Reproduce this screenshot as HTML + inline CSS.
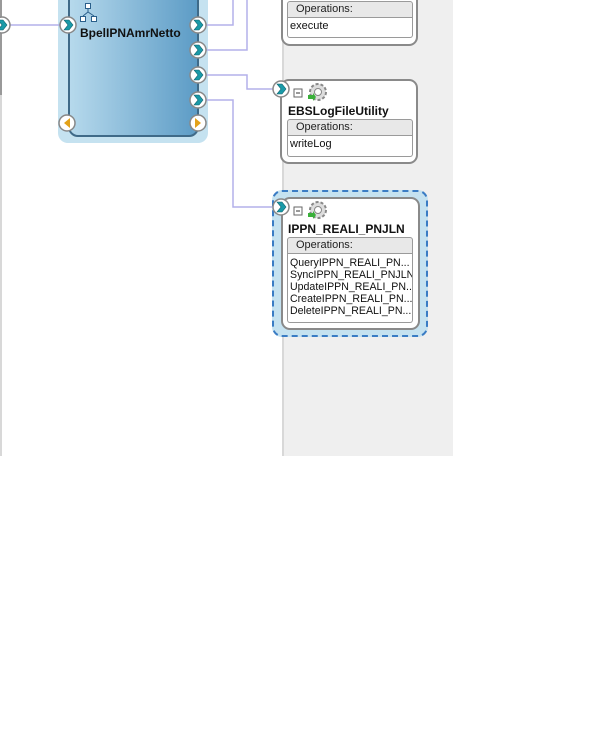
<!DOCTYPE html>
<html><head><style>
body{margin:0;width:602px;height:739px;background:#fff;position:relative;overflow:hidden;font-family:"Liberation Sans",sans-serif;}
.a{position:absolute;}
.box{position:absolute;background:#fff;border:2px solid #8a8a8a;border-radius:9px;box-sizing:border-box;}
.hdr{position:absolute;background:#e8e8e8;border:1px solid #9a9a9a;border-radius:3px 3px 0 0;font-size:11px;color:#222;box-sizing:border-box;padding-left:8px;line-height:15px;}
.rows{position:absolute;border:1px solid #9a9a9a;border-top:none;border-radius:0 0 3px 3px;font-size:11px;color:#111;box-sizing:border-box;padding-left:2px;line-height:12px;background:#fff;}
.title{position:absolute;font-weight:bold;font-size:12px;color:#111;}
</style></head><body>
<div class="a" style="left:282px;top:0;width:171px;height:456px;background:#efefef;border-left:2px solid #d8d8d8;box-sizing:border-box;"></div>
<div class="a" style="left:0;top:0;width:2px;height:456px;background:#d8d8d8;"></div>
<div class="a" style="left:0;top:0;width:2px;height:95px;background:#999;"></div>

<div class="a" style="left:58px;top:-10px;width:150px;height:153px;background:#c5e2f0;border-radius:10px;"></div>
<div class="a" style="left:68px;top:-10px;width:131px;height:147px;background:linear-gradient(to right,#b6d9ec,#5d9cc6);border:2px solid #3f6a88;border-radius:10px;box-sizing:border-box;"></div>
<div class="title" style="left:80px;top:26px;font-size:12px;">BpelIPNAmrNetto</div>

<svg class="a" style="left:0;top:0" width="602" height="739">
<g fill="none" stroke="#b4b0ea" stroke-width="1.5">
<path d="M8 25H60"/>
<path d="M206 25H233V0"/>
<path d="M206 50H247V0"/>
<path d="M206 75H247V89H275"/>
<path d="M206 100H233V207H275"/>
</g>
<g fill="#fff" stroke="#2a5f8a" stroke-width="1">
<rect x="85.5" y="3.5" width="5" height="5"/>
<rect x="80.5" y="16.5" width="5" height="5"/>
<rect x="91.5" y="16.5" width="5" height="5"/>
<path d="M88 9V12M83 16L88 12L94 16" fill="none"/>
</g>
<defs>
<g id="p"><circle r="8" fill="#fff" stroke="#888" stroke-width="1.5"/><path d="M-4 -5L1 -5L5 0L1 5L-4 5L0 0Z" fill="#1a9aa8" stroke="#0c5f6a" stroke-width="0.6"/></g>
</defs>
<use href="#p" x="2" y="25"/>
<use href="#p" x="68" y="25"/>
<use href="#p" x="198" y="25"/>
<use href="#p" x="198" y="50"/>
<use href="#p" x="198" y="75"/>
<use href="#p" x="198" y="100"/>
<circle cx="67" cy="123" r="8" fill="#fff" stroke="#888" stroke-width="1.5"/>
<path d="M70 118L64 123L70 128Z" fill="#e3a21a"/>
<circle cx="198" cy="123" r="8" fill="#fff" stroke="#888" stroke-width="1.5"/>
<path d="M195 118L201 123L195 128Z" fill="#e3a21a"/>
</svg>

<div class="box" style="left:281px;top:-20px;width:137px;height:66px;"></div>
<div class="hdr" style="left:287px;top:1px;width:126px;height:17px;">Operations:</div>
<div class="rows" style="left:287px;top:18px;width:126px;height:20px;line-height:17px;">execute</div>

<div class="box" style="left:280px;top:79px;width:138px;height:85px;"></div>
<div class="title" style="left:288px;top:104px;">EBSLogFileUtility</div>
<div class="hdr" style="left:287px;top:119px;width:126px;height:17px;">Operations:</div>
<div class="rows" style="left:287px;top:136px;width:126px;height:21px;line-height:17px;">writeLog</div>

<div class="a" style="left:272px;top:190px;width:156px;height:147px;background:#c5e2f0;border:2px dashed #3a7cc4;border-radius:10px;box-sizing:border-box;"></div>
<div class="box" style="left:281px;top:197px;width:139px;height:133px;"></div>
<div class="title" style="left:288px;top:222px;">IPPN_REALI_PNJLN</div>
<div class="hdr" style="left:287px;top:237px;width:126px;height:17px;">Operations:</div>
<div class="rows" style="left:287px;top:254px;width:126px;height:69px;padding-top:3px;white-space:nowrap;overflow:hidden;font-size:10.6px;">QueryIPPN_REALI_PN...<br>SyncIPPN_REALI_PNJLN<br>UpdateIPPN_REALI_PN...<br>CreateIPPN_REALI_PN...<br>DeleteIPPN_REALI_PN...</div>

<svg class="a" style="left:0;top:0" width="602" height="739">
<defs>
<g id="q"><circle r="8" fill="#fff" stroke="#888" stroke-width="1.5"/><path d="M-4 -5L1 -5L5 0L1 5L-4 5L0 0Z" fill="#1a9aa8" stroke="#0c5f6a" stroke-width="0.6"/></g>
<g id="g"><rect x="-4" y="-4" width="8" height="8" fill="#fff" stroke="#666"/><path d="M-2 0H2" stroke="#333"/><circle cx="20" cy="-1" r="8" fill="#ddd" stroke="#888" stroke-width="2" stroke-dasharray="3 2"/><circle cx="20" cy="-1" r="3.5" fill="#fff" stroke="#888"/><path d="M10 2H15V0L18 4L15 8V6H10Z" fill="#3ab03a"/></g>
</defs>
<use href="#q" x="281" y="89"/>
<use href="#q" x="281" y="207"/>
<use href="#g" x="298" y="93"/>
<use href="#g" x="298" y="211"/>
</svg>
</body></html>
